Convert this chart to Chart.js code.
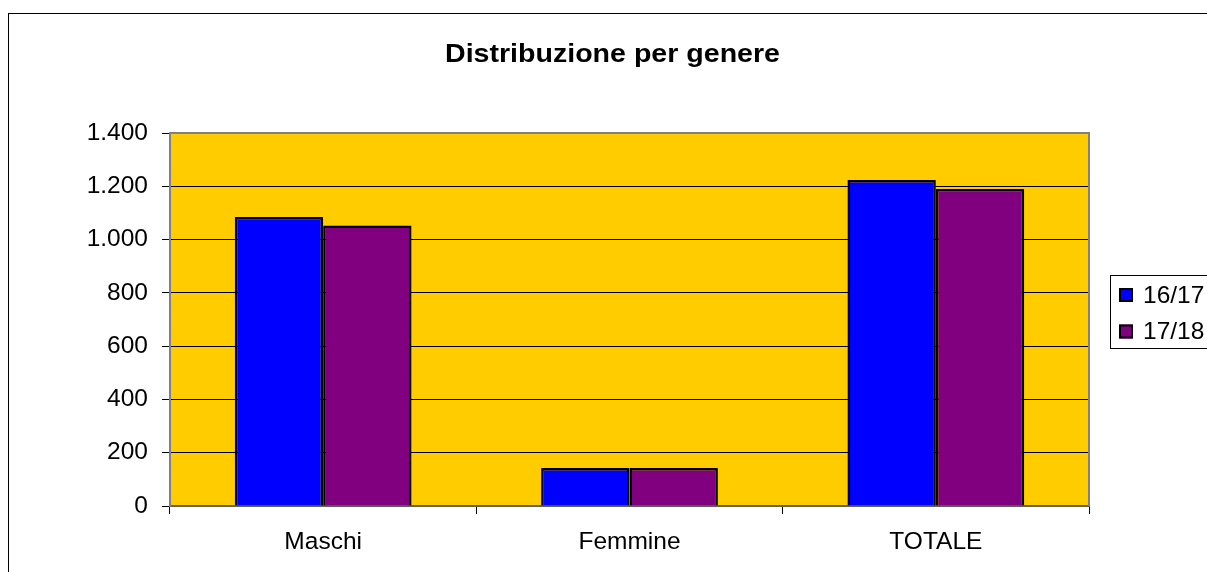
<!DOCTYPE html>
<html><head><meta charset="utf-8">
<script src="https://cdn.jsdelivr.net/npm/chart.js@4/dist/chart.umd.min.js"></script>
<style>html,body{margin:0;padding:0;background:#fff;}#wrap{width:1207px;height:572px;}</style>
</head><body><div id="wrap"><canvas id="c" width="1207" height="572"></canvas></div>
<script>
const categories = ["Maschi", "Femmine", "TOTALE"];
const seriesLabels = ["16/17", "17/18"];
const values1617 = [1085, 143, 1224];
const values1718 = [1053, 143, 1190];
const yTicks = [0, 200, 400, 600, 800, 1000, 1200, 1400];
const titleText = "Distribuzione per genere";

const FONT = "Liberation Sans, Arial, sans-serif";

const decor = {
  id: 'decor',
  beforeDraw(chart) {
    const ctx = chart.ctx, a = chart.chartArea;
    ctx.save();
    ctx.fillStyle = '#fff';
    ctx.fillRect(0, 0, chart.width, chart.height);
    ctx.strokeStyle = '#000'; ctx.lineWidth = 1;
    ctx.strokeRect(8.5, 13.5, 1400, 800);
    ctx.fillStyle = '#FFCC00';
    ctx.fillRect(a.left, a.top, a.right - a.left, a.bottom - a.top);
    ctx.restore();
  },
  afterDraw(chart) {
    const ctx = chart.ctx, a = chart.chartArea;
    ctx.save();
    ctx.strokeStyle = '#808080'; ctx.lineWidth = 2;
    ctx.beginPath();
    ctx.moveTo(a.left, a.top); ctx.lineTo(a.right, a.top); ctx.lineTo(a.right, a.bottom);
    ctx.stroke();
    // title (slightly widened like the reference)
    ctx.font = 'bold 25px ' + FONT;
    ctx.textAlign = 'center';
    ctx.textBaseline = 'alphabetic';
    ctx.fillStyle = '#000';
    const w = ctx.measureText(titleText).width;
    const sx = 335 / w;
    ctx.save();
    ctx.translate(612.5, 62);
    ctx.scale(sx, 1);
    ctx.fillText(titleText, 0, 0);
    ctx.restore();
    // legend
    const lx = 1110.5, ly = 275.5;
    ctx.fillStyle = '#fff';
    ctx.fillRect(lx, ly, 200, 73);
    ctx.strokeStyle = '#000'; ctx.lineWidth = 1;
    ctx.strokeRect(lx, ly, 200, 73);
    ctx.font = '24.5px ' + FONT;
    ctx.textBaseline = 'middle';
    ctx.textAlign = 'left';
    chart.data.datasets.forEach((ds, i) => {
      const cy = 295 + i * 36.5;
      ctx.fillStyle = ds.backgroundColor;
      ctx.fillRect(1119, cy - 7, 14, 14);
      ctx.strokeStyle = '#000'; ctx.lineWidth = 2;
      ctx.strokeRect(1120, cy - 6, 12, 12);
      ctx.fillStyle = '#000';
      ctx.fillText(ds.label, 1143, cy + 1);
    });
    ctx.restore();
  }
};

new Chart(document.getElementById('c'), {
  type: 'bar',
  data: {
    labels: categories,
    datasets: [
      { label: seriesLabels[0], data: values1617, backgroundColor: '#0000FF', borderColor: '#000', borderWidth: 2.5 },
      { label: seriesLabels[1], data: values1718, backgroundColor: '#800080', borderColor: '#000', borderWidth: 2.5 }
    ]
  },
  options: {
    responsive: false,
    animation: false,
    layout: { padding: { left: 0, right: 118, top: 133, bottom: 0 } },
    datasets: { bar: { categoryPercentage: 0.577, barPercentage: 1.0 } },
    plugins: {
      legend: { display: false },
      tooltip: { enabled: false },
      title: { display: false }
    },
    scales: {
      x: {
        afterFit(s) { s.height = 66; },
        grid: { display: true, drawOnChartArea: false, drawTicks: true, tickLength: 8, color: '#000', offset: true },
        border: { display: true, color: '#606060', width: 2 },
        ticks: { color: '#000', font: { family: FONT, size: 24.5 }, padding: 14 }
      },
      y: {
        min: 0, max: 1400,
        afterFit(s) { s.width = 170; },
        afterBuildTicks(s) { s.ticks = yTicks.map(v => ({ value: v })); },
        grid: { display: true, drawOnChartArea: true, drawTicks: true, tickLength: 8, color: '#000', lineWidth: 1 },
        border: { display: true, color: '#808080', width: 2 },
        ticks: {
          color: '#000', font: { family: FONT, size: 24.5 }, padding: 14,
          callback: v => v.toLocaleString('it-IT').replace(/\u00a0/g, '')
        }
      }
    }
  },
  plugins: [decor]
});
</script></body></html>
